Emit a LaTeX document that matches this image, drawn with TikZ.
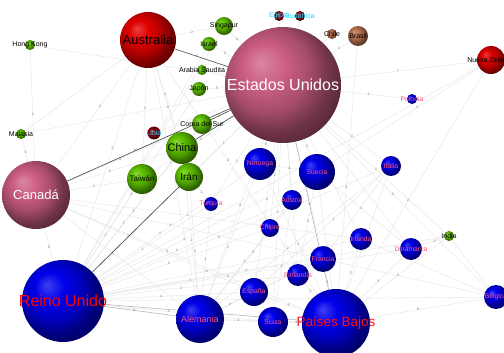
\documentclass[tikz,border=0pt]{standalone}
\usepackage{fontspec}
\setmainfont{Liberation Sans}
\usetikzlibrary{backgrounds}

\definecolor{bluenode}{RGB}{0,0,235}
\definecolor{pinknode}{RGB}{205,95,130}
\definecolor{rednode}{RGB}{225,0,0}
\definecolor{winenode}{RGB}{140,0,10}
\definecolor{greennode}{RGB}{95,195,0}
\definecolor{brownnode}{RGB}{185,115,80}
\definecolor{lblpink}{RGB}{255,85,120}
\definecolor{lblcyan}{RGB}{40,215,255}

% shaded ball, highlight upper left
\colorlet{sphcol}{bluenode}
\pgfdeclareradialshading[sphcol]{sphere}{\pgfqpoint{-10bp}{10bp}}{%
  color(0bp)=(sphcol!75!white); color(9bp)=(sphcol); color(18bp)=(sphcol!80!black);
  color(25bp)=(sphcol!55!black); color(50bp)=(black)}

\tikzset{
  sphere color/.code={\colorlet{sphcol}{#1}},
  globe/.style={circle, inner sep=0pt, shade, shading=sphere, sphere color=#1},
  lbk/.style={font=\fontsize{7}{8}\selectfont, text=black, inner sep=0pt},
  lbp/.style={font=\fontsize{6.8}{8}\selectfont, text=lblpink, inner sep=0pt},
  lbc/.style={font=\fontsize{7}{8}\selectfont, text=lblcyan, inner sep=0pt},
  link/.style={draw=black!10, line width=0.4pt},
  midlink/.style={draw=black!32, line width=0.5pt},
  heavy/.style={draw=black!75, line width=0.6pt},
  wt/.style={font=\fontsize{3.5}{4}\selectfont, text=black!55, inner sep=0.5pt, pos=0.42}
}

\begin{document}
\begin{tikzpicture}[x=1pt,y=-1pt]
  \useasboundingbox (0,0) rectangle (504,353);

  % asia / oceania
  \node[globe=greennode, minimum size=10pt, label={[lbk]center:Hong Kong}] (hkg) at (30,45) {};
  \node[globe=rednode, minimum size=56pt, label={[lbk,font=\fontsize{13}{14}\selectfont]center:Australia}] (aus) at (148,40) {};
  \node[globe=greennode, minimum size=18pt, label={[lbk]center:Singapur}] (sgp) at (224,26) {};
  \node[globe=greennode, minimum size=14pt, label={[lbk]center:Israel}] (isr) at (209,44) {};
  \node[globe=greennode, minimum size=10pt, label={[lbk]center:Arabia Saudita}] (sau) at (202,70) {};
  \node[globe=greennode, minimum size=14pt, label={[lbk]center:Japón}] (jpn) at (199,89) {};
  \node[globe=winenode, minimum size=10pt, label={[lbc]center:Egipto}] (egy) at (279,16) {};
  \node[globe=winenode, minimum size=10pt, label={[lbc]center:Sudáfrica}] (zaf) at (300,16) {};
  \node[globe=brownnode, minimum size=10pt, label={[lbk]center:Chile}] (chl) at (332,34) {};
  \node[globe=brownnode, minimum size=20pt, label={[lbk]center:Brasil}] (bra) at (358,36) {};
  \node[globe=pinknode, minimum size=116pt, label={[inner sep=0pt,text=white,font=\fontsize{16}{18}\selectfont]center:Estados Unidos}] (usa) at (283,85) {};
  \node[globe=rednode, minimum size=28pt, label={[lbk]center:Nueva Zelanda}] (nzl) at (491,60) {};
  \node[globe=bluenode, minimum size=10pt, label={[lbp]center:Polonia}] (pol) at (412,99) {};
  \node[globe=greennode, minimum size=10pt, label={[lbk]center:Malasia}] (mys) at (21,134) {};
  \node[globe=winenode, minimum size=13pt, label={[lbc]center:Libia}] (lby) at (154,133) {};
  \node[globe=greennode, minimum size=20pt, label={[lbk]center:Corea del Sur}] (kor) at (202,124) {};
  \node[globe=greennode, minimum size=32pt, label={[lbk,font=\fontsize{11}{12}\selectfont]center:China}] (chn) at (182,148) {};
  \node[globe=greennode, minimum size=30pt, label={[lbk,font=\fontsize{8}{9}\selectfont]center:Taiwán}] (twn) at (142,179) {};
  \node[globe=greennode, minimum size=28pt, label={[lbk,font=\fontsize{10}{11}\selectfont]center:Irán}] (irn) at (189,177) {};
  \node[globe=pinknode, minimum size=68pt, label={[inner sep=0pt,text=white,font=\fontsize{13}{14}\selectfont]center:Canadá}] (can) at (36,195) {};
  \node[globe=greennode, minimum size=10pt, label={[lbk]center:India}] (ind) at (449,236) {};

  % europa
  \node[globe=bluenode, minimum size=32pt, label={[lbp]center:Noruega}] (nor) at (260,164) {};
  \node[globe=bluenode, minimum size=36pt, label={[lbp]center:Suecia}] (swe) at (317,172) {};
  \node[globe=bluenode, minimum size=20pt, label={[lbp]center:Italia}] (ita) at (391,166) {};
  \node[globe=bluenode, minimum size=14pt, label={[lbp]center:Turquía}] (tur) at (211,204) {};
  \node[globe=bluenode, minimum size=20pt, label={[lbp]center:Austria}] (aut) at (292,200) {};
  \node[globe=bluenode, minimum size=18pt, label={[lbp]center:Chipre}] (cyp) at (270,228) {};
  \node[globe=bluenode, minimum size=22pt, label={[lbp]center:Irlanda}] (irl) at (361,239) {};
  \node[globe=bluenode, minimum size=22pt, label={[lbp]center:Dinamarca}] (dnk) at (411,249) {};
  \node[globe=bluenode, minimum size=26pt, label={[lbp]center:Francia}] (fra) at (323,259) {};
  \node[globe=bluenode, minimum size=22pt, label={[lbp]center:Finlandia}] (fin) at (298,275) {};
  \node[globe=bluenode, minimum size=28pt, label={[lbp]center:España}] (esp) at (254,292) {};
  \node[globe=bluenode, minimum size=82pt, label={[inner sep=0pt,text=red,font=\fontsize{16}{18}\selectfont]center:Reino Unido}] (gbr) at (63,301) {};
  \node[globe=bluenode, minimum size=48pt, label={[lbp,font=\fontsize{9}{10}\selectfont]center:Alemania}] (deu) at (200,319) {};
  \node[globe=bluenode, minimum size=30pt, label={[lbp]center:Suiza}] (che) at (273,322) {};
  \node[globe=bluenode, minimum size=68pt, label={[lbp,text=red!80!lblpink,font=\fontsize{13.5}{15}\selectfont]center:Países Bajos}] (nld) at (336,323) {};
  \node[globe=bluenode, minimum size=24pt, label={[lbp]center:Bélgica}] (bel) at (496,297) {};

  \begin{pgfonlayer}{background}
  \fill[white] (0,0) rectangle (504,353);
  % faint links
  \foreach \a/\b/\w in {usa/sgp/2,usa/isr/3,usa/sau/,usa/jpn/5,usa/egy/,usa/zaf/,usa/chl/,usa/bra/4,
      usa/nzl/7,usa/pol/2,usa/lby/,usa/twn/3,usa/irn/2,usa/nor/6,usa/swe/3,usa/ita/4,usa/tur/2,
      usa/aut/,usa/cyp/2,usa/irl/3,usa/dnk/,usa/ind/2,usa/fra/5,usa/fin/3,usa/esp/4,usa/gbr/9,
      usa/deu/6,usa/che/3,usa/bel/2,usa/mys/,usa/hkg/}
    \draw[link] (\a) -- node[wt]{\w} (\b);
  \foreach \a/\b/\w in {aus/can/3,aus/gbr/5,aus/twn/2,aus/chn/4,aus/irn/2,aus/sgp/2,aus/deu/3,
      aus/nld/2,aus/mys/,can/hkg/2,can/mys/3,can/chn/5,can/kor/3,can/twn/2,can/deu/3,can/fra/4,
      can/nld/3,can/irl/2,can/esp/}
    \draw[link] (\a) -- node[wt]{\w} (\b);
  \foreach \a/\b/\w in {gbr/can/8,gbr/twn/2,gbr/chn/3,gbr/fra/5,gbr/esp/4,gbr/irl/5,gbr/swe/3,
      gbr/nor/4,gbr/ita/3,gbr/dnk/2,gbr/che/3,gbr/bel/4,gbr/cyp/2,gbr/tur/2,gbr/fin/2,gbr/aut/2,
      gbr/kor/3,gbr/jpn/2,gbr/sgp/2,gbr/ind/2,gbr/isr/}
    \draw[link] (\a) -- node[wt]{\w} (\b);
  \foreach \a/\b/\w in {nld/deu/5,nld/che/3,nld/bel/8,nld/dnk/3,nld/irl/2,nld/fra/4,nld/fin/2,
      nld/esp/3,nld/nzl/2,nld/bra/2,nld/swe/3,nld/nor/2,nld/ita/2,nld/ind/,deu/che/4,deu/fra/5,
      deu/esp/3,deu/aut/4,deu/tur/2,deu/nor/2,deu/swe/3,deu/ita/2,deu/irn/3,deu/chn/2,swe/nor/4,
      swe/fin/3,swe/dnk/3,nzl/swe/2,nzl/gbr/,ind/bel/,ind/dnk/2,fra/bel/3,fra/esp/2,ita/esp/2,
      ita/fra/,irl/bel/,che/aut/2,chn/kor/,irn/tur/2}
    \draw[link] (\a) -- node[wt]{\w} (\b);
  % stronger links
  \draw[midlink] (usa) -- node[wt]{6} (nld);
  \draw[midlink] (gbr) -- node[wt]{7} (nld);
  \draw[midlink] (gbr) -- node[wt]{6} (deu);
  \foreach \a/\b/\w in {can/usa/10,aus/usa/8,kor/usa/5,chn/usa/6,gbr/irn/5}
    \draw[heavy] (\a) -- node[wt]{\w} (\b);
  \end{pgfonlayer}
\end{tikzpicture}
\end{document}
